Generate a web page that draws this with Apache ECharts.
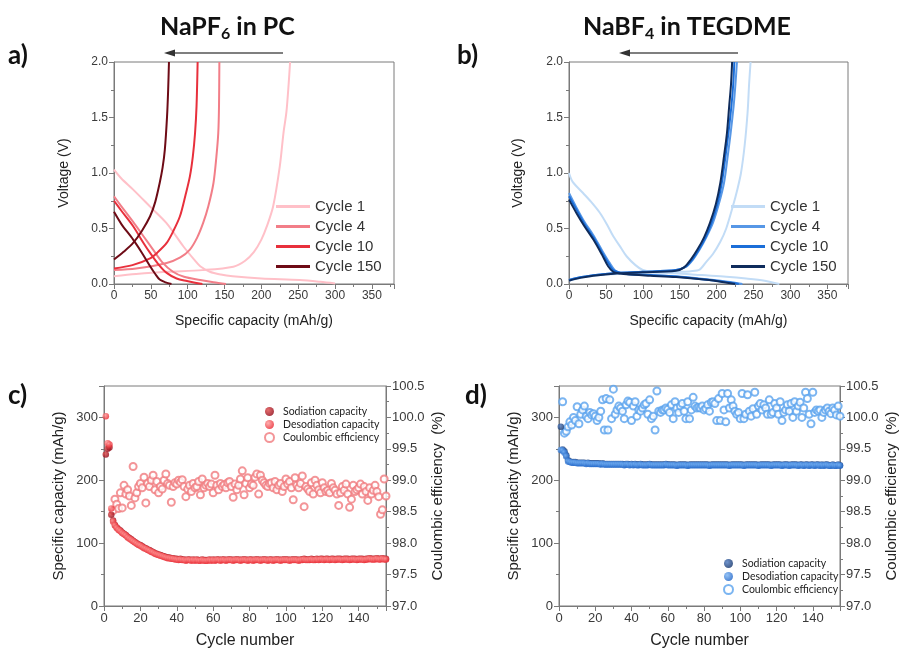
<!DOCTYPE html>
<html><head><meta charset="utf-8">
<script src="https://cdn.jsdelivr.net/npm/echarts/dist/echarts.min.js"></script>
<style>html,body{margin:0;padding:0;background:#fff}#c{width:900px;height:654px}</style>
</head><body><div id="c"></div><script>
// ---------- Panel a: NaPF6 in PC (capacity mAh/g, voltage V) ----------
var a_c1_dis = [[0,1.03],[10,0.95],[26,0.85],[50,0.69],[71,0.55],[94,0.34],[110,0.21],[117,0.16],[130,0.11],[145,0.085],[161,0.07],[200,0.05],[252,0.036],[280,0.02],[300,0.005]];
var a_c1_chg = [[0,0.07],[30,0.09],[71,0.11],[120,0.125],[162,0.156],[178,0.21],[190,0.29],[200,0.4],[208,0.53],[216,0.7],[225,1.06],[230,1.36],[234,1.55],[237,1.8],[239,2.0]];
var a_c4_dis = [[0,0.79],[10,0.7],[26,0.56],[40,0.43],[53,0.31],[65,0.2],[80,0.11],[95,0.065],[117,0.036],[135,0.015],[152,0.0]];
var a_c4_chg = [[0,0.126],[30,0.14],[71.5,0.19],[90,0.24],[103,0.31],[113,0.42],[121,0.55],[128,0.7],[135,0.91],[139,1.15],[141.5,1.36],[142.5,1.6],[143,2.0]];
var a_c10_dis = [[0,0.75],[10,0.66],[26,0.52],[40,0.37],[49,0.28],[60,0.18],[71.5,0.10],[85,0.05],[99,0.027],[110,0.012],[120,0.0]];
var a_c10_chg = [[0,0.14],[25,0.17],[49,0.23],[60,0.29],[71.5,0.37],[80,0.47],[89.5,0.61],[97,0.8],[103,0.97],[107,1.15],[110,1.36],[112,1.6],[113.5,2.0]];
var a_c150_dis = [[0,0.65],[10,0.54],[26,0.40],[38,0.28],[49,0.16],[56,0.09],[62,0.04],[70,0.015],[78,0.0]];
var a_c150_chg = [[0,0.22],[13,0.29],[26,0.37],[38,0.48],[49,0.61],[56,0.74],[62,0.91],[66,1.05],[69,1.21],[72,1.51],[73.5,1.75],[74.6,2.0]];

// ---------- Panel b: NaBF4 in TEGDME ----------
var b_c1_dis = [[0,1.0],[5,0.92],[19,0.82],[30,0.74],[42,0.64],[52,0.53],[60,0.43],[70,0.33],[78,0.25],[90,0.17],[100,0.126],[115,0.105],[145,0.096],[180,0.08],[213,0.066],[240,0.05],[265,0.03],[285,0.0]];
var b_c1_chg = [[0,0.03],[20,0.06],[50,0.085],[100,0.1],[150,0.11],[165,0.115],[177,0.13],[186,0.2],[195,0.27],[205,0.38],[213,0.5],[222,0.7],[228,0.85],[233,1.0],[238,1.25],[242,1.55],[244,1.8],[246,2.0]];
var b_c4_dis = [[0,0.82],[10,0.69],[20,0.57],[33,0.44],[45,0.3],[55,0.19],[62,0.125],[70,0.1],[78,0.09],[110,0.08],[145,0.07],[190,0.04],[215,0.02],[235,0.0]];
var b_c4_chg = [[0,0.036],[15,0.06],[33,0.08],[64,0.1],[100,0.11],[145,0.126],[159,0.156],[168,0.22],[177,0.31],[186,0.42],[195,0.55],[203,0.72],[210,0.91],[215,1.15],[219,1.36],[223,1.6],[225.5,1.8],[227.5,2.0]];
var b_c10_dis = [[0,0.79],[10,0.67],[20,0.55],[33,0.42],[45,0.28],[55,0.17],[60,0.125],[70,0.1],[78,0.09],[110,0.08],[145,0.068],[190,0.036],[215,0.015],[230,0.0]];
var b_c10_chg = [[0,0.036],[15,0.06],[33,0.08],[64,0.1],[100,0.11],[145,0.126],[158,0.156],[167,0.22],[176,0.31],[185,0.42],[193,0.55],[201,0.72],[207,0.91],[212,1.15],[216,1.36],[220,1.6],[222.5,1.8],[224,2.0]];
var b_c150_dis = [[0,0.76],[10,0.64],[20,0.53],[33,0.40],[45,0.26],[53,0.16],[60,0.11],[70,0.095],[78,0.088],[110,0.075],[145,0.062],[190,0.035],[210,0.015],[225,0.0]];
var b_c150_chg = [[0,0.03],[15,0.055],[33,0.075],[64,0.095],[100,0.105],[145,0.12],[156,0.15],[165,0.22],[174,0.31],[183,0.42],[191,0.55],[199,0.72],[205,0.91],[210,1.15],[214,1.36],[217,1.6],[219.5,1.8],[221,2.0]];

// ---------- Panel c: cycling NaPF6 (cycle 1..155) ----------
var c_sod = [241,250,252,145,136,129,125,122,120,117,
115,113,110,108,106,104,102,100,98,97,
95,93,92,90,89,87,86,84,83,82,
81,80,79,78,77,77,76,76,75,75,
74,75,74,74,73,74,74,73,74,73,
74,73,73,74,73,73,73,74,73,74,
73,74,74,73,74,74,73,74,74,74,
73,74,74,74,73,74,74,74,73,74,
74,73,74,74,74,73,74,74,74,73,
74,74,73,74,74,74,73,74,74,74,
74,73,74,74,74,74,73,74,74,75,
74,74,74,75,74,74,75,74,75,75,
74,75,75,74,75,75,74,75,75,75,
74,75,75,75,74,75,75,75,74,75,
75,75,74,75,75,76,75,75,75,76,
75,75,76,75,75];
var c_des = [302,259,257,155,134,128,124,121,119,116,
114,112,109,107,105,103,101,99,97,96,
94,92,91,89,88,86,85,83,82,81,
80,79,78,77,76,76,75,75,74,74,
73,74,73,73,72,73,73,72,73,72,
73,72,72,73,72,72,72,73,72,73,
72,73,73,72,73,73,72,73,73,73,
72,73,73,73,72,73,73,73,72,73,
73,72,73,73,73,72,73,73,73,72,
73,73,72,73,73,73,72,73,73,73,
73,72,73,73,73,73,72,73,73,74,
73,73,73,74,73,73,74,73,74,74,
73,74,74,73,74,74,73,74,74,74,
73,74,74,74,73,74,74,74,73,74,
74,74,73,74,74,75,74,74,74,75,
74,74,75,74,74];
var c_ce = [null,null,null,null,98.52,98.70,98.62,98.55,98.80,98.56,
98.92,98.78,98.85,98.75,98.60,99.22,98.72,98.80,98.90,98.95,
98.88,99.05,98.64,98.95,98.90,99.00,99.08,98.85,98.98,98.80,
98.90,98.86,99.00,99.10,98.95,98.92,98.65,98.90,98.96,98.94,
99.00,98.97,99.01,98.90,98.74,98.86,98.92,98.82,98.95,98.88,
98.90,98.98,98.77,99.02,98.88,98.92,98.95,98.90,98.94,98.80,
99.08,98.92,98.85,98.95,98.90,98.93,98.88,98.96,98.98,98.90,
98.73,98.94,98.85,98.92,99.02,99.15,98.77,98.95,99.04,98.88,
98.94,98.92,99.05,99.10,98.78,99.08,99.00,98.96,98.92,98.90,
98.95,98.96,98.88,98.98,98.85,98.92,98.95,98.82,98.90,99.02,
98.94,98.98,98.88,98.69,99.04,98.92,98.88,98.95,99.07,98.58,
98.90,98.86,98.82,98.96,98.78,99.00,98.92,98.85,98.80,98.96,
98.88,98.82,98.84,98.80,98.95,98.88,98.84,98.78,98.60,98.80,
98.90,98.84,98.94,98.78,98.57,98.70,98.92,98.82,98.85,98.88,
98.94,98.78,98.90,98.82,98.68,98.88,98.78,98.84,98.92,98.82,
98.74,98.46,98.53,99.02,98.75];

// ---------- Panel d: cycling NaBF4 (cycle 1..155) ----------
var d_sod = [285,249,246,240,232,230,229,229,229,228,
228,228,228,228,227,228,227,227,227,227,
227,227,226,227,226,226,226,226,226,226,
226,226,226,226,226,225,226,226,225,226,
225,226,225,225,226,225,225,225,225,226,
225,225,225,225,225,225,225,225,226,225,
225,225,225,225,224,225,225,225,225,225,
224,225,225,225,225,225,225,225,225,225,
225,225,224,225,225,225,225,225,225,225,
225,225,225,224,225,225,225,225,225,225,
225,224,225,225,225,225,225,225,225,224,
225,225,225,225,225,225,224,225,225,225,
225,225,224,225,225,225,224,225,225,225,
225,224,225,225,224,225,225,224,225,225,
224,225,225,224,225,224,225,225,224,224,
225,224,224,225,224];
var d_des = [248,247,244,238,230,229,228,228,228,227,
227,227,227,227,226,227,226,226,226,226,
226,226,225,226,225,225,225,225,225,225,
225,225,225,225,225,224,225,225,224,225,
224,225,224,224,225,224,224,224,224,225,
224,224,224,224,224,224,224,224,225,224,
224,224,224,224,223,224,224,224,224,224,
223,224,224,224,224,224,224,224,224,224,
224,224,223,224,224,224,224,224,224,224,
224,224,224,223,224,224,224,224,224,224,
224,223,224,224,224,224,224,224,224,223,
224,224,224,224,224,224,223,224,224,224,
224,224,223,224,224,224,223,224,224,224,
224,223,224,224,223,224,224,223,224,224,
223,224,224,223,224,223,224,224,223,223,
224,223,223,224,223];
var d_ce = [null,100.25,99.75,99.78,99.85,99.93,99.88,100.00,99.95,100.17,
99.90,100.05,100.12,100.18,100.02,99.98,100.08,100.04,100.06,100.02,
99.95,100.00,100.10,100.28,99.80,100.30,99.80,100.28,99.98,100.45,
100.05,100.12,100.18,100.15,100.10,99.98,100.20,100.26,100.24,99.95,
100.18,100.25,100.02,100.12,100.10,100.15,100.20,100.22,100.05,100.28,
99.98,100.02,99.80,100.42,100.10,100.08,100.12,100.12,100.15,100.13,
100.08,100.20,99.98,100.25,100.15,100.08,100.18,100.22,100.10,99.98,
100.25,99.98,100.12,100.32,100.18,100.15,100.16,100.15,100.18,100.12,
100.14,100.20,100.10,100.24,100.25,100.22,99.95,100.30,99.95,100.38,
100.12,99.93,100.38,100.15,100.28,100.18,100.10,100.05,100.08,99.98,
100.38,99.98,100.05,100.36,100.10,100.02,100.14,100.40,100.05,100.18,
100.22,100.12,100.20,100.15,100.05,100.28,100.05,100.08,100.22,100.15,
100.05,100.25,99.95,100.08,100.12,100.20,100.10,100.22,100.00,100.25,
100.10,100.18,100.24,100.00,100.15,100.40,100.30,100.05,99.90,100.40,
100.08,100.12,100.10,100.12,100.00,100.08,100.12,100.15,100.10,100.06,
100.15,100.12,100.04,100.18,100.02];

var legendCycles = ['Cycle 1','Cycle 4','Cycle 10','Cycle 150'];
var legendCycling = ['Sodiation capacity','Desodiation capacity','Coulombic efficiency'];

// ---------- build ----------
function byCycle(arr){ return arr.map(function(v,i){ return [i+1, v]; }); }
var AX = '#7a7a7a', LBL = '#3a3a3a';
function axis(o){
  var base = {
    type:'value', splitLine:{show:false},
    axisLine:{show:true, onZero:false, lineStyle:{color:AX, width:1}},
    axisTick:{show:true, inside:false, length:5, lineStyle:{color:AX}},
    minorTick:{show:true, splitNumber:2, length:3, lineStyle:{color:AX}},
    minorSplitLine:{show:false},
    axisLabel:{color:LBL, fontSize:12, fontFamily:'Liberation Sans', margin:6},
    nameLocation:'middle',
    nameTextStyle:{color:'#222', fontSize:14, fontFamily:'Liberation Sans'}
  };
  for (var k in o) {
    if (typeof o[k]==='object' && base[k] && !Array.isArray(o[k])) { base[k] = Object.assign({}, base[k], o[k]); }
    else base[k] = o[k];
  }
  return base;
}
function line(name, data, color, xi, yi, z){
  return {type:'line', name:name, data:data, xAxisIndex:xi, yAxisIndex:yi, symbol:'none', smooth:0.3,
    lineStyle:{color:color, width:2}, itemStyle:{color:color}, clip:true, z:z||2, silent:true, animation:false};
}
function ball(c1, c2){ return {type:'radial', x:0.35, y:0.35, r:0.75, colorStops:[{offset:0,color:c1},{offset:1,color:c2}]}; }

var aCol = ['#ffc0c8','#f27e88','#e8303c','#6e0b16'];
var bCol = ['#c2dcf6','#5797e6','#1b6ed8','#0f2c5c'];
var aNames = legendCycles, bNames = legendCycles.map(function(s){return s+' ';});
var dNames = legendCycling.map(function(s){return s+' ';});

var series = [
  line(aNames[0], a_c1_dis, aCol[0], 0, 0, 1), line(aNames[0], a_c1_chg, aCol[0], 0, 0, 1),
  line(aNames[1], a_c4_dis, aCol[1], 0, 0, 2), line(aNames[1], a_c4_chg, aCol[1], 0, 0, 2),
  line(aNames[2], a_c10_dis, aCol[2], 0, 0, 3), line(aNames[2], a_c10_chg, aCol[2], 0, 0, 3),
  line(aNames[3], a_c150_dis, aCol[3], 0, 0, 4), line(aNames[3], a_c150_chg, aCol[3], 0, 0, 4),
  line(bNames[0], b_c1_dis, bCol[0], 1, 1, 1), line(bNames[0], b_c1_chg, bCol[0], 1, 1, 1),
  line(bNames[1], b_c4_dis, bCol[1], 1, 1, 2), line(bNames[1], b_c4_chg, bCol[1], 1, 1, 2),
  line(bNames[2], b_c10_dis, bCol[2], 1, 1, 3), line(bNames[2], b_c10_chg, bCol[2], 1, 1, 3),
  line(bNames[3], b_c150_dis, bCol[3], 1, 1, 4), line(bNames[3], b_c150_chg, bCol[3], 1, 1, 4),
  {type:'scatter', name:legendCycling[0], data:byCycle(c_sod), xAxisIndex:2, yAxisIndex:2, symbol:'circle', symbolSize:6.5,
    itemStyle:{color:ball('#e04848','#8a0010')}, z:3, animation:false},
  {type:'scatter', name:legendCycling[1], data:byCycle(c_des), xAxisIndex:2, yAxisIndex:2, symbol:'circle', symbolSize:6.5,
    itemStyle:{color:ball('#ff9a9a','#e81c26')}, z:4, animation:false},
  {type:'scatter', name:legendCycling[2], data:byCycle(c_ce), xAxisIndex:2, yAxisIndex:3, symbol:'emptyCircle', symbolSize:7,
    itemStyle:{color:'#f07a7e', borderColor:'#f07a7e', borderWidth:1}, z:2, animation:false},
  {type:'scatter', name:dNames[0], data:byCycle(d_sod), xAxisIndex:3, yAxisIndex:4, symbol:'circle', symbolSize:6.5,
    itemStyle:{color:ball('#4a78c0','#0a2a60')}, z:3, animation:false},
  {type:'scatter', name:dNames[1], data:byCycle(d_des), xAxisIndex:3, yAxisIndex:4, symbol:'circle', symbolSize:6.5,
    itemStyle:{color:ball('#7ab4f4','#145cc4')}, z:4, animation:false},
  {type:'scatter', name:dNames[2], data:byCycle(d_ce), xAxisIndex:3, yAxisIndex:5, symbol:'emptyCircle', symbolSize:7,
    itemStyle:{color:'#5aa2ee', borderColor:'#5aa2ee', borderWidth:1}, z:2, animation:false}
];

var fmt1 = function(v){ return v.toFixed(1); };
var gridStyle = {show:true, borderColor:AX, borderWidth:1, backgroundColor:'transparent', containLabel:false};
var lineLegend = {orient:'vertical', top:199, padding:0, itemWidth:34, itemHeight:3, itemGap:5, icon:'rect',
  textStyle:{fontSize:15, color:'#333', fontFamily:'Liberation Sans'}, selectedMode:false};

var option = {
  backgroundColor:'#ffffff',
  animation:false,
  title:[
    {text:'NaPF{s|6} in PC', left:160, top:12, padding:0,
     textStyle:{fontFamily:'Lato', fontWeight:'bold', fontSize:25, color:'#111', lineHeight:30,
       rich:{s:{fontFamily:'Lato', fontWeight:'bold', fontSize:16, lineHeight:14, verticalAlign:'bottom', color:'#111'}}}},
    {text:'NaBF{s|4} in TEGDME', left:583, top:12, padding:0,
     textStyle:{fontFamily:'Lato', fontWeight:'bold', fontSize:25, color:'#111', lineHeight:30,
       rich:{s:{fontFamily:'Lato', fontWeight:'bold', fontSize:16, lineHeight:14, verticalAlign:'bottom', color:'#111'}}}}
  ],
  graphic:[
    {type:'text', left:8, top:43, style:{text:'a)', font:'bold 26px Lato', fill:'#111'}},
    {type:'text', left:457, top:43, style:{text:'b)', font:'bold 26px Lato', fill:'#111'}},
    {type:'text', left:8, top:383, style:{text:'c)', font:'bold 26px Lato', fill:'#111'}},
    {type:'text', left:465, top:383, style:{text:'d)', font:'bold 26px Lato', fill:'#111'}},
    {type:'line', shape:{x1:283, y1:53, x2:172, y2:53}, style:{stroke:'#555', lineWidth:1.5}},
    {type:'polygon', shape:{points:[[164,53],[175,49.5],[175,56.5]]}, style:{fill:'#333'}},
    {type:'line', shape:{x1:738, y1:53, x2:627, y2:53}, style:{stroke:'#555', lineWidth:1.5}},
    {type:'polygon', shape:{points:[[619,53],[630,49.5],[630,56.5]]}, style:{fill:'#333'}}
  ],
  legend:[
    Object.assign({data:aNames, left:276}, lineLegend),
    Object.assign({data:bNames, left:731}, lineLegend),
    {data:legendCycling, orient:'vertical', left:264, top:406, padding:0, itemWidth:9, itemHeight:9, itemGap:2,
     textStyle:{fontSize:10.5, color:'#222', fontFamily:'Lato', padding:[0,0,0,4]}, selectedMode:false},
    {data:dNames, orient:'vertical', left:723, top:558, padding:0, itemWidth:9, itemHeight:9, itemGap:2,
     textStyle:{fontSize:10.5, color:'#222', fontFamily:'Lato', padding:[0,0,0,4]}, selectedMode:false}
  ],
  grid:[
    Object.assign({left:114, top:62, width:280, height:222}, gridStyle),
    Object.assign({left:569, top:62, width:279, height:222}, gridStyle),
    Object.assign({left:104, top:386, width:282, height:220}, gridStyle),
    Object.assign({left:559, top:386, width:282, height:220}, gridStyle)
  ],
  xAxis:[
    axis({gridIndex:0, min:0, max:380, interval:50, name:'Specific capacity (mAh/g)', nameGap:30,
      axisLabel:{showMaxLabel:false}}),
    axis({gridIndex:1, min:0, max:378, interval:50, name:'Specific capacity (mAh/g)', nameGap:30,
      axisLabel:{showMaxLabel:false}}),
    axis({gridIndex:2, min:0, max:155, interval:20, name:'Cycle number', nameGap:27,
      axisLabel:{showMaxLabel:false, fontSize:13},
      nameTextStyle:{fontSize:16}}),
    axis({gridIndex:3, min:0, max:155, interval:20, name:'Cycle number', nameGap:27,
      axisLabel:{showMaxLabel:false, fontSize:13},
      nameTextStyle:{fontSize:16}})
  ],
  yAxis:[
    axis({gridIndex:0, min:0, max:2, interval:0.5, name:'Voltage (V)', nameGap:43, axisLabel:{formatter:fmt1}}),
    axis({gridIndex:1, min:0, max:2, interval:0.5, name:'Voltage (V)', nameGap:44, axisLabel:{formatter:fmt1}}),
    axis({gridIndex:2, min:0, max:350, interval:100, name:'Specific capacity (mAh/g)', nameGap:38,
      axisLabel:{showMaxLabel:false, fontSize:13}, nameTextStyle:{fontSize:15}}),
    axis({gridIndex:2, position:'right', min:97, max:100.5, interval:0.5, name:'Coulombic efficiency  (%)', nameGap:44,
      axisLabel:{formatter:fmt1, fontSize:13}, nameTextStyle:{fontSize:15}}),
    axis({gridIndex:3, min:0, max:350, interval:100, name:'Specific capacity (mAh/g)', nameGap:38,
      axisLabel:{showMaxLabel:false, fontSize:13}, nameTextStyle:{fontSize:15}}),
    axis({gridIndex:3, position:'right', min:97, max:100.5, interval:0.5, name:'Coulombic efficiency  (%)', nameGap:44,
      axisLabel:{formatter:fmt1, fontSize:13}, nameTextStyle:{fontSize:15}})
  ],
  series:series
};
var chart = echarts.init(document.getElementById('c'), null, {renderer:'canvas'});
chart.setOption(option);
</script></body></html>
